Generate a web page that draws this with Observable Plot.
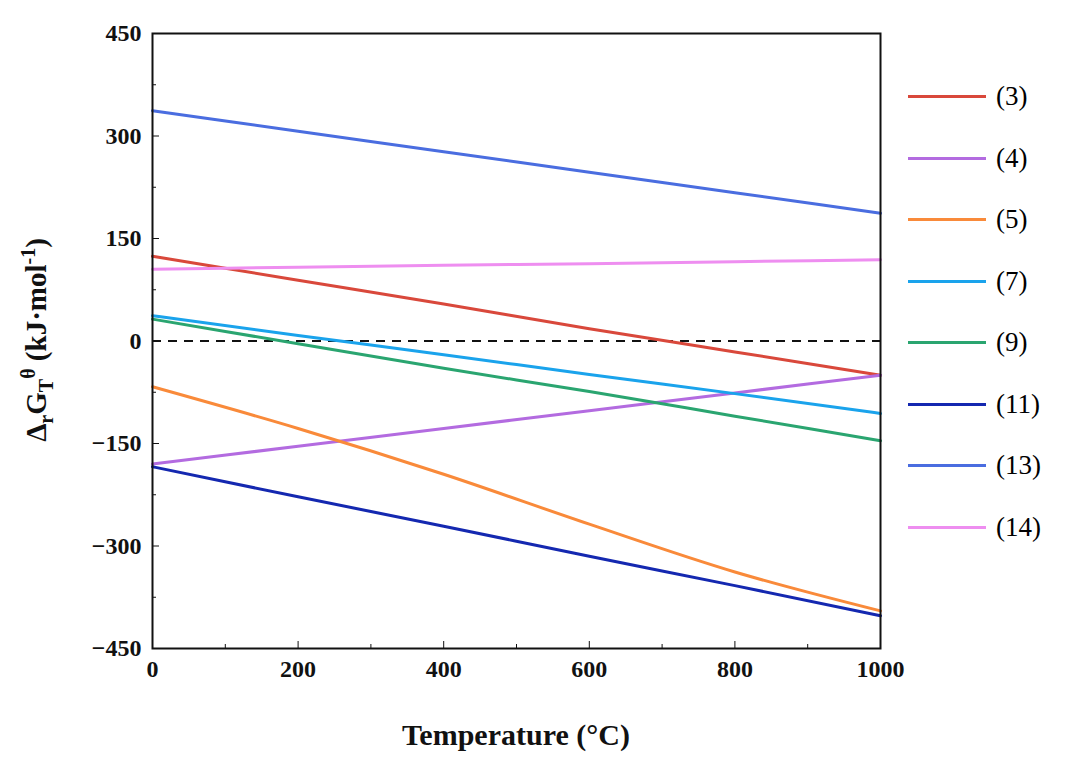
<!DOCTYPE html>
<html><head><meta charset="utf-8">
<script src="https://cdn.jsdelivr.net/npm/d3@7"></script>
<script src="https://cdn.jsdelivr.net/npm/@observablehq/plot@0.6"></script>
<style>
body{margin:0;background:#fff;font-family:"Liberation Serif",serif;}
#wrap{position:relative;width:1080px;height:763px;}
#legend{position:absolute;left:908px;top:66px;font:27px "Liberation Serif",serif;}
.li{display:flex;align-items:center;height:61.5px;}
.sw{width:78px;height:3px;margin-right:10px;}
svg g[aria-label="x-axis tick label"] text, svg g[aria-label="y-axis tick label"] text{font-size:24px;font-weight:bold;}
</style></head><body>
<div id="wrap"><div id="chart"></div><div id="legend"></div></div>
<script>
const temps = [0, 200, 400, 600, 800, 1000];
const names = ["(3)","(4)","(5)","(7)","(9)","(11)","(13)","(14)"];
const colors = ["#d9483b","#b36be0","#f98a3a","#1aa3ec","#2aa570","#1428b0","#4a6de0","#ee8ef0"];
const s3  = [124, 89, 54, 18, -16, -50];
const s4  = [-180, -154, -128, -102, -76, -50];
const s5  = [-67, -128, -195, -268, -338, -395];
const s7  = [37, 8, -20, -49, -77, -106];
const s9  = [32, -4, -40, -74, -110, -146];
const s11 = [-184, -228, -271, -315, -358, -402];
const s13 = [337, 307, 277, 247, 217, 187];
const s14 = [105, 108, 111, 113, 116, 119];
const series = [s3,s4,s5,s7,s9,s11,s13,s14];
const data = series.flatMap((s,i)=>s.map((v,j)=>({T:temps[j],G:v,name:names[i]})));

const plot = Plot.plot({
  width:1080, height:763,
  marginLeft:152, marginRight:200, marginTop:33, marginBottom:115,
  style:{fontFamily:"Liberation Serif, serif", fontSize:"24px", fontWeight:"bold", color:"#111"},
  x:{domain:[0,1000]},
  y:{domain:[-450,450]},
  color:{domain:names, range:colors},
  marks:[
    Plot.ruleY([0],{stroke:"#111",strokeWidth:2,strokeDasharray:"9,7"}),
    Plot.line(data,{x:"T",y:"G",z:"name",stroke:"name",strokeWidth:3,curve:"monotone-x"}),
    Plot.axisX({ticks:[0,200,400,600,800,1000],tickSize:-7,tickPadding:18,label:null,tickFormat:d=>String(d)}),
    Plot.axisX({ticks:d3.range(100,1000,200),tickSize:-4,tickFormat:()=>"",label:null}),
    Plot.axisY({ticks:[-450,-300,-150,0,150,300,450],tickSize:-7,tickPadding:18,label:null,tickFormat:d=>d<0?"\u2212"+(-d):String(d)}),
    Plot.axisY({ticks:d3.range(-375,450,75).filter(v=>v%150!==0),tickSize:-4,tickFormat:()=>"",label:null}),
    Plot.frame({stroke:"#111",strokeWidth:2})
  ]
});
document.getElementById("chart").appendChild(plot);
const svg = d3.select(plot);
svg.append("text").attr("x",516).attr("y",745).attr("text-anchor","middle")
  .attr("font-size",30).attr("font-weight","bold").attr("font-family","Liberation Serif, serif")
  .text("Temperature (\u00B0C)");
const yl = svg.append("text").attr("transform","translate(46,340) rotate(-90)").attr("text-anchor","middle")
  .attr("font-size",29).attr("font-weight","bold").attr("font-family","Liberation Serif, serif");
yl.append("tspan").text("\u0394");
yl.append("tspan").attr("font-size",20).attr("dy",7).text("r");
yl.append("tspan").attr("dy",-7).text("G");
yl.append("tspan").attr("font-size",20).attr("dy",7).text("T");
yl.append("tspan").attr("font-size",20).attr("dy",-18).text("\u03B8");
yl.append("tspan").attr("dy",11).text(" (kJ\u00B7mol");
yl.append("tspan").attr("font-size",20).attr("dy",-11).text("-1");
yl.append("tspan").attr("dy",11).text(")");
const lg = document.getElementById("legend");
names.forEach((n,i)=>{
  const d=document.createElement("div");d.className="li";
  d.innerHTML=`<span class="sw" style="background:${colors[i]}"></span><span>${n}</span>`;
  lg.appendChild(d);
});
</script></body></html>
